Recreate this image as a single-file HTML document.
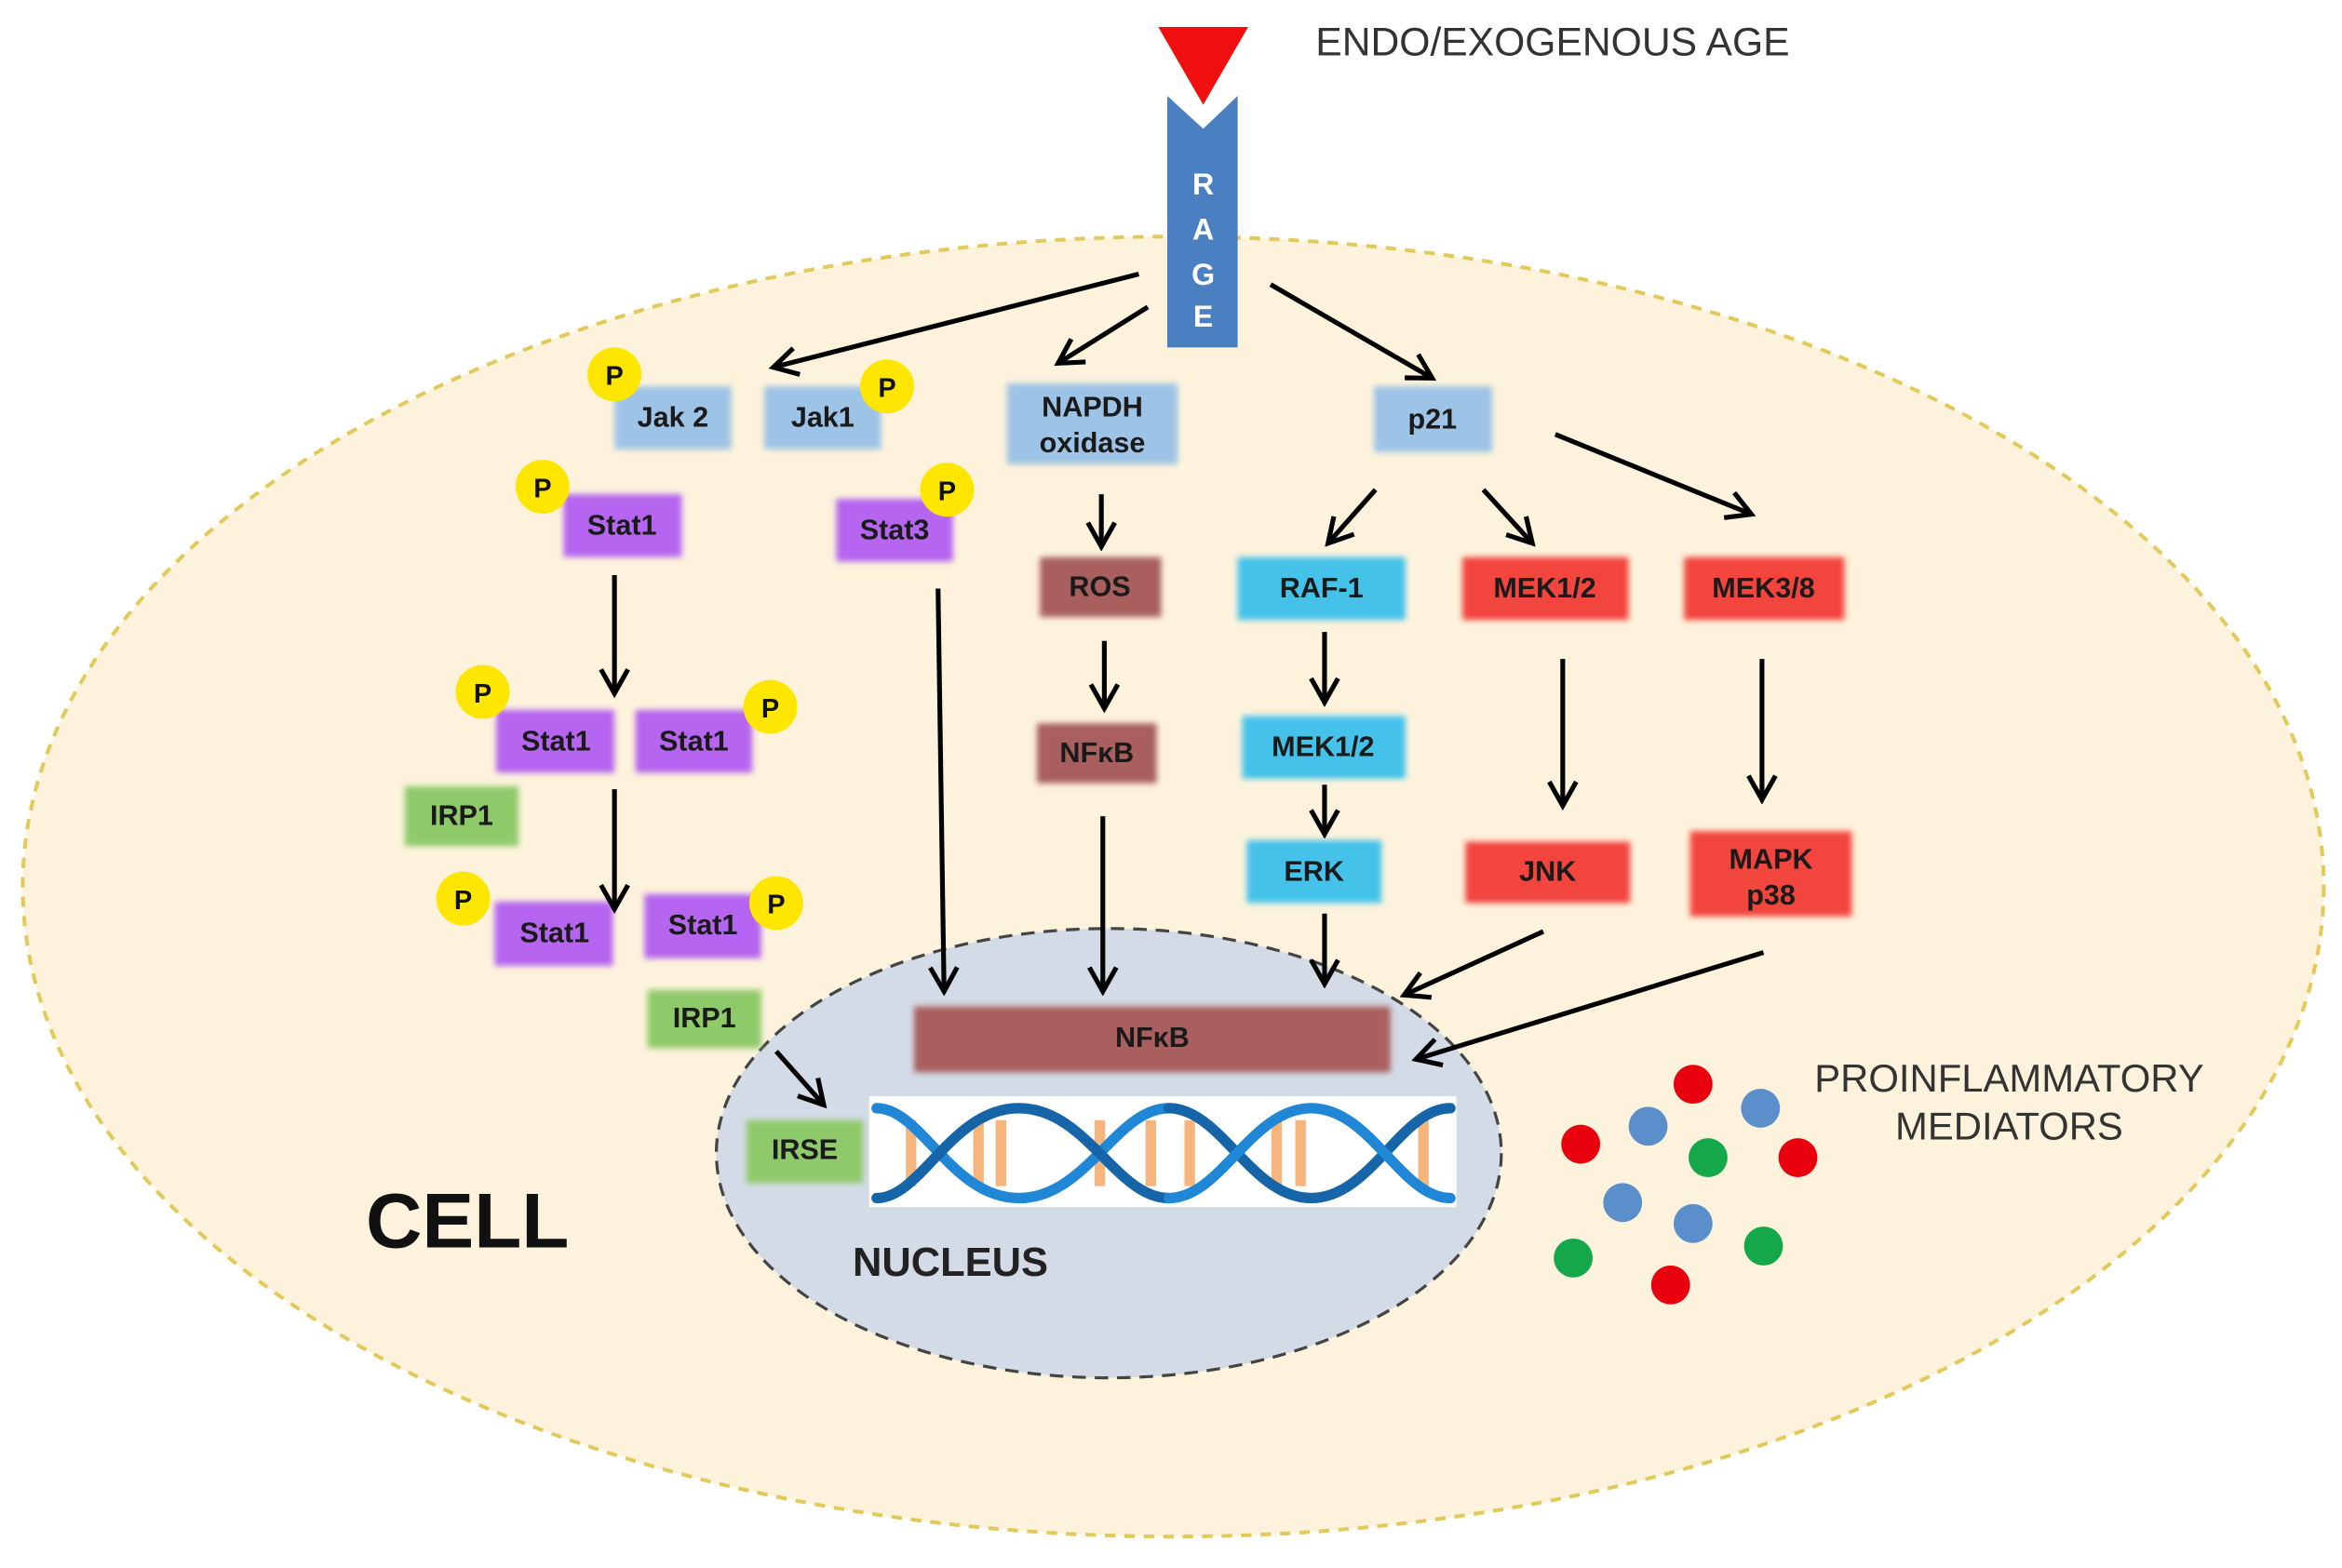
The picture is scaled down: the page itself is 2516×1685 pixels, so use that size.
<!DOCTYPE html>
<html><head><meta charset="utf-8"><style>html,body{margin:0;padding:0;background:#fff}svg{display:block}</style></head><body>
<svg width="2516" height="1685" viewBox="0 0 1563 1047" xmlns="http://www.w3.org/2000/svg" font-family="Liberation Sans, sans-serif">
<defs>
<filter id="b" x="-20%" y="-20%" width="140%" height="140%"><feGaussianBlur stdDeviation="2"/></filter>
<marker id="m" markerWidth="22" markerHeight="22" refX="18" refY="11" orient="auto" markerUnits="userSpaceOnUse"><path d="M3,2 L19,11 L3,20" fill="none" stroke="#000" stroke-width="3.2"/></marker>
</defs>
<rect width="1563" height="1047" fill="#fff"/>
<ellipse cx="783" cy="592" rx="768" ry="434" fill="#fdf3dc" stroke="#e3c95a" stroke-width="2.5" stroke-dasharray="7 6"/>
<ellipse cx="740" cy="770" rx="262" ry="150" fill="#d3dbe6" stroke="#444" stroke-width="2" stroke-dasharray="9 6"/>
<polygon points="773,18 833,18 803,70" fill="#f01010"/>
<polygon points="779,64 803,86 826,64 826,232 779,232" fill="#4a7fc1"/>
<g fill="#fff" font-weight="bold" font-size="20" text-anchor="middle"><text x="803" y="130">R</text><text x="803" y="160">A</text><text x="803" y="190">G</text><text x="803" y="218">E</text></g>
<text x="878" y="37" font-size="26.5" fill="#333">ENDO/EXOGENOUS AGE</text>
<g filter="url(#b)">
<rect x="410" y="258" width="78" height="42" fill="#9dc3e6"/>
<rect x="510" y="258" width="78" height="42" fill="#9dc3e6"/>
<rect x="672" y="256" width="114" height="54" fill="#9dc3e6"/>
<rect x="917" y="258" width="79" height="44" fill="#9dc3e6"/>
<rect x="376" y="330" width="79" height="42" fill="#b565ef"/>
<rect x="558" y="333" width="78" height="42" fill="#b565ef"/>
<rect x="331" y="474" width="79" height="42" fill="#b565ef"/>
<rect x="424" y="474" width="78" height="42" fill="#b565ef"/>
<rect x="330" y="602" width="79" height="43" fill="#b565ef"/>
<rect x="430" y="597" width="78" height="43" fill="#b565ef"/>
<rect x="270" y="525" width="76" height="40" fill="#8fca6a"/>
<rect x="432" y="661" width="76" height="39" fill="#8fca6a"/>
<rect x="498" y="748" width="78" height="42" fill="#8fca6a"/>
<rect x="694" y="372" width="81" height="40" fill="#a85f5d"/>
<rect x="692" y="483" width="80" height="40" fill="#a85f5d"/>
<rect x="610" y="672" width="318" height="44" fill="#a85f5d"/>
<rect x="826" y="372" width="112" height="42" fill="#45c2ea"/>
<rect x="829" y="478" width="109" height="42" fill="#45c2ea"/>
<rect x="832" y="561" width="90" height="42" fill="#45c2ea"/>
<rect x="976" y="372" width="111" height="42" fill="#f2453c"/>
<rect x="1124" y="372" width="107" height="42" fill="#f2453c"/>
<rect x="978" y="562" width="110" height="41" fill="#f2453c"/>
<rect x="1128" y="555" width="108" height="57" fill="#f2453c"/>
</g>
<g font-weight="bold" font-size="19" fill="#1a1a1a" text-anchor="middle">
<text x="449" y="285">Jak 2</text><text x="549" y="285">Jak1</text>
<text x="729" y="278">NAPDH</text><text x="729" y="302">oxidase</text>
<text x="956" y="286">p21</text>
<text x="415" y="357">Stat1</text><text x="597" y="360">Stat3</text>
<text x="371" y="501">Stat1</text><text x="463" y="501">Stat1</text>
<text x="370" y="629">Stat1</text><text x="469" y="624">Stat1</text>
<text x="308" y="551">IRP1</text><text x="470" y="686">IRP1</text><text x="537" y="774">IRSE</text>
<text x="734" y="398">ROS</text><text x="732" y="509">NFκB</text><text x="769" y="699">NFκB</text>
<text x="882" y="399">RAF-1</text><text x="883" y="505">MEK1/2</text><text x="877" y="588">ERK</text>
<text x="1031" y="399">MEK1/2</text><text x="1177" y="399">MEK3/8</text>
<text x="1033" y="588">JNK</text><text x="1182" y="580">MAPK</text><text x="1182" y="604">p38</text>
</g>
<g fill="#ffe600">
<circle cx="410" cy="250" r="18"/><circle cx="592" cy="258" r="18"/><circle cx="362" cy="325" r="18"/><circle cx="632" cy="327" r="18"/>
<circle cx="322" cy="462" r="18"/><circle cx="514" cy="472" r="18"/><circle cx="309" cy="600" r="18"/><circle cx="518" cy="603" r="18"/>
</g>
<g font-weight="bold" font-size="18" text-anchor="middle" fill="#111">
<text x="410" y="257">P</text><text x="592" y="265">P</text><text x="362" y="332">P</text><text x="632" y="334">P</text>
<text x="322" y="469">P</text><text x="514" y="479">P</text><text x="309" y="607">P</text><text x="518" y="610">P</text>
</g>
<rect x="580" y="732" width="392" height="74" fill="#fff"/>
<g stroke="#f5b57c" stroke-width="7">
<line x1="608" y1="748" x2="608" y2="792"/><line x1="653" y1="748" x2="653" y2="792"/><line x1="668" y1="748" x2="668" y2="792"/><line x1="734" y1="748" x2="734" y2="792"/><line x1="768" y1="748" x2="768" y2="792"/><line x1="794" y1="748" x2="794" y2="792"/><line x1="852" y1="748" x2="852" y2="792"/><line x1="868" y1="748" x2="868" y2="792"/><line x1="950" y1="748" x2="950" y2="792"/>
</g>
<g fill="none" stroke-width="7" stroke-linecap="round">
<path d="M585,740 C615,740 635,800 680,800 C725,800 745,740 780,740" stroke="#1f87d6"/>
<path d="M585,800 C615,800 635,740 680,740 C725,740 745,800 780,800" stroke="#1565a8"/>
<path d="M780,740 C815,740 835,800 875,800 C915,800 935,740 968,740" stroke="#1565a8"/>
<path d="M780,800 C815,800 835,740 875,740 C915,740 935,800 968,800" stroke="#1f87d6"/>
</g>
<g stroke="#000" stroke-width="3.2" fill="none" marker-end="url(#m)">
<line x1="760" y1="183" x2="517" y2="245"/>
<line x1="766" y1="205" x2="707" y2="242"/>
<line x1="848" y1="190" x2="955" y2="252"/>
<line x1="1038" y1="290" x2="1168" y2="343"/>
<line x1="918" y1="327" x2="887" y2="362"/>
<line x1="990" y1="327" x2="1022" y2="362"/>
<line x1="735" y1="330" x2="735" y2="364"/>
<line x1="737" y1="428" x2="737" y2="472"/>
<line x1="410" y1="384" x2="410" y2="462"/>
<line x1="410" y1="527" x2="410" y2="606"/>
<line x1="626" y1="393" x2="630" y2="661"/>
<line x1="736" y1="545" x2="736" y2="661"/>
<line x1="884" y1="422" x2="884" y2="468"/>
<line x1="884" y1="524" x2="884" y2="556"/>
<line x1="884" y1="610" x2="884" y2="656"/>
<line x1="1043" y1="440" x2="1043" y2="537"/>
<line x1="1176" y1="440" x2="1176" y2="533"/>
<line x1="1030" y1="622" x2="938" y2="664"/>
<line x1="1177" y1="636" x2="946" y2="707"/>
<line x1="518" y1="702" x2="549" y2="737"/>
</g>
<text x="244" y="833" font-size="52" font-weight="bold" fill="#111">CELL</text>
<text x="569" y="852" font-size="27" font-weight="bold" fill="#222">NUCLEUS</text>
<g font-size="26" fill="#333" text-anchor="middle"><text x="1341" y="729">PROINFLAMMATORY</text><text x="1341" y="761">MEDIATORS</text></g>
<g>
<circle cx="1130" cy="724" r="13" fill="#e8000e"/><circle cx="1055" cy="764" r="13" fill="#e8000e"/><circle cx="1200" cy="773" r="13" fill="#e8000e"/><circle cx="1115" cy="858" r="13" fill="#e8000e"/>
<circle cx="1100" cy="752" r="13" fill="#5b8fcc"/><circle cx="1175" cy="740" r="13" fill="#5b8fcc"/><circle cx="1083" cy="803" r="13" fill="#5b8fcc"/><circle cx="1130" cy="817" r="13" fill="#5b8fcc"/>
<circle cx="1140" cy="773" r="13" fill="#15a84a"/><circle cx="1050" cy="840" r="13" fill="#15a84a"/><circle cx="1177" cy="832" r="13" fill="#15a84a"/>
</g>
</svg>
</body></html>
